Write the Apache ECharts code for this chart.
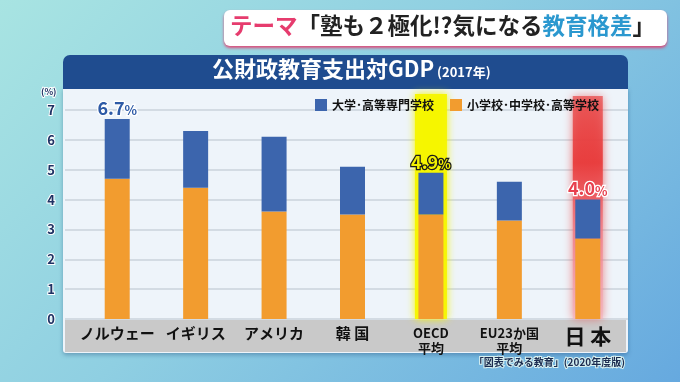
<!DOCTYPE html>
<html><head><meta charset="utf-8">
<script src="https://cdn.jsdelivr.net/npm/echarts@6/dist/echarts.min.js"></script>
<style>
html,body{margin:0;padding:0;}
#c{width:680px;height:382px;background:linear-gradient(135deg,#a8e4e2 0%,#8fcfe2 45%,#66a9df 100%);}
</style></head>
<body><div id="c"></div>
<script>
const categories = ['ノルウェー','イギリス','アメリカ','韓 国','OECD\n平均','EU23か国\n平均','日 本'];
const primarySecondary = [4.7, 4.4, 3.6, 3.5, 3.5, 3.3, 2.7];
const tertiary = [2.0, 1.9, 2.5, 1.6, 1.4, 1.3, 1.3];
const yTicks = [0,1,2,3,4,5,6,7];
const labeledIdx = [0, 4, 6];
const labelStyles = {
  0: {color:'#2d5aa6', textBorderColor:'#ffffff'},
  4: {color:'#f2f000', textBorderColor:'#1a1a1a'},
  6: {color:'#e8404e', textBorderColor:'#ffffff'}
};
const seriesNames = ['大学･高等専門学校','小学校･中学校･高等学校'];

const chart = echarts.init(document.getElementById('c'), null, {renderer:'canvas'});
const FONT = '"Noto Sans CJK JP", "Noto Sans", sans-serif';

function catLabel(v){
  if (v.indexOf('\n') >= 0) return '{s|' + v + '}';
  if (v === '日 本') return '{l|' + v + '}';
  return '{m|' + v + '}';
}

const topData = tertiary.map((v,i) => {
  if (labeledIdx.indexOf(i) < 0) return v;
  const st = labelStyles[i];
  const total = (primarySecondary[i] + tertiary[i]).toFixed(1);
  return {value: v, label: {show:true, position:'top', distance:2,
    formatter: '{n|' + total + '}{p|%}',
    rich: {
      n:{fontSize:18, fontWeight:'bold', fontFamily:FONT, color:st.color, textBorderColor:st.textBorderColor, textBorderWidth:2.5},
      p:{fontSize:13, fontWeight:'bold', fontFamily:FONT, color:st.color, textBorderColor:st.textBorderColor, textBorderWidth:2.5, padding:[4,0,0,0]}
    }}};
});

const option = {
  animation:false,
  textStyle:{fontFamily:FONT},
  legend:{
    data:[seriesNames[0], seriesNames[1]],
    left:310, top:94, itemWidth:12, itemHeight:12, itemGap:16, icon:'rect',
    textStyle:{fontSize:12, fontWeight:'bold', color:'#111', fontFamily:FONT}
  },
  grid:[
    {left:78, right:53, top:110, bottom:63},
    {left:65, right:52, top:110, bottom:63}
  ],
  xAxis:[
    {type:'category', gridIndex:0, data:categories, z:6,
     axisLine:{show:false}, axisTick:{show:false},
     axisLabel:{margin:7, interval:0, formatter:catLabel,
       rich:{
         m:{fontSize:15, fontWeight:'bold', color:'#111', fontFamily:FONT},
         l:{fontSize:21, fontWeight:'bold', color:'#111', fontFamily:FONT},
         s:{fontSize:13, fontWeight:'bold', color:'#111', fontFamily:FONT, lineHeight:15}
       }}},
    {type:'value', gridIndex:1, show:false, min:0, max:1}
  ],
  yAxis:[
    {type:'value', gridIndex:0, min:0, max:7, interval:1, show:false},
    {type:'value', gridIndex:1, min:yTicks[0], max:yTicks[yTicks.length-1], interval:1, z:1,
     axisLine:{show:false}, axisTick:{show:false},
     splitLine:{show:true, lineStyle:{color:'#d3dbe3', width:2}},
     axisLabel:{margin:10, fontSize:13, fontWeight:'bold', color:'#1f3264', fontFamily:FONT,
       textBorderColor:'#ffffff', textBorderWidth:2}}
  ],
  series:[
    {name:seriesNames[1], type:'bar', stack:'t', xAxisIndex:0, yAxisIndex:0, barWidth:25, z:3,
     itemStyle:{color:'#f29c2f'}, data:primarySecondary},
    {name:seriesNames[0], type:'bar', stack:'t', xAxisIndex:0, yAxisIndex:0, barWidth:25, z:3,
     itemStyle:{color:'#3c65ad'}, data:topData}
  ],
  graphic:{elements:[
    {type:'rect', z:0, shape:{x:224,y:10,width:443,height:36,r:6}, style:{fill:'#ffffff', shadowColor:'rgba(230,60,110,0.9)', shadowBlur:3, shadowOffsetY:2}},
    {type:'text', z:1, left:230, top:14, style:{
      text:'{a|テーマ}{b|「塾も２極化!?気になる}{c|教育格差}{b|」}',
      rich:{
        a:{fontSize:22.5, fontWeight:'bold', fill:'#e63c6e', fontFamily:FONT},
        b:{fontSize:22.5, fontWeight:'bold', fill:'#222222', fontFamily:FONT},
        c:{fontSize:22.5, fontWeight:'bold', fill:'#2b98cf', fontFamily:FONT}
      }}},
    {type:'rect', z:0, shape:{x:63,y:88,width:565,height:265,r:[0,0,3,3]}, style:{fill:'#eef4fa', shadowColor:'rgba(20,60,110,0.35)', shadowBlur:4, shadowOffsetY:2}},
    {type:'rect', z:0, shape:{x:65,y:319,width:561,height:33}, style:{fill:'#c9c9c9'}},
    {type:'rect', z:0, shape:{x:63,y:55,width:565,height:34,r:[7,7,0,0]}, style:{fill:'#1f4c8f'}},
    {type:'text', z:1, left:212, top:58, style:{
      text:'{t|公財政教育支出対GDP}{y| (2017年)}',
      rich:{
        t:{fontSize:22, fontWeight:'bold', fill:'#ffffff', fontFamily:FONT},
        y:{fontSize:13, fontWeight:'bold', fill:'#ffffff', fontFamily:FONT, padding:[6,0,0,0]}
      }}},
    {type:'text', z:1, left:40, top:86, style:{text:'(%)', fontSize:9, fontWeight:'bold', fill:'#1f3264', stroke:'#ffffff', lineWidth:2, fontFamily:FONT}},
    {type:'text', z:1, right:54, top:356, style:{text:'「図表でみる教育」(2020年度版)', fontSize:10, fontWeight:'bold', fill:'#1c2c50', stroke:'#d8f0f0', lineWidth:2, fontFamily:FONT}}
  ]}
};
chart.setOption(option);

const pO = chart.convertToPixel({xAxisIndex:0}, 4);
const pJ = chart.convertToPixel({xAxisIndex:0}, 6);
const yBase = chart.convertToPixel({yAxisIndex:0}, 0);
chart.setOption({graphic:{elements:option.graphic.elements.concat([
  {type:'rect', z:2, shape:{x:pO-16, y:94, width:32, height:yBase-94}, style:{fill:'rgba(246,246,0,0.95)', shadowColor:'rgba(246,246,0,1)', shadowBlur:8}},
  {type:'rect', z:2, shape:{x:pJ-15, y:96, width:30, height:yBase-96},
   style:{fill:new echarts.graphic.LinearGradient(0,0,0,1,[{offset:0,color:'rgba(232,60,60,0.65)'},{offset:0.3,color:'rgba(232,60,60,0.95)'},{offset:0.6,color:'rgba(240,120,130,0.8)'},{offset:1,color:'rgba(245,180,190,0.7)'}]), shadowColor:'rgba(235,80,80,0.9)', shadowBlur:10}}
])}});
</script></body></html>
